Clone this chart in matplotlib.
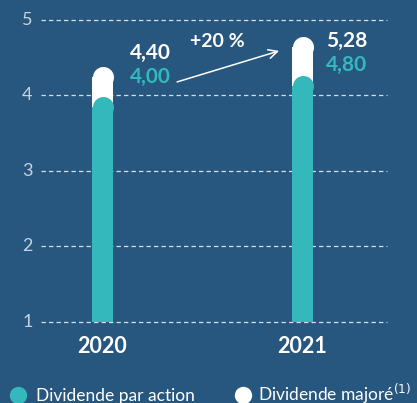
import matplotlib.pyplot as plt

years = ['2020', '2021']
dividende = [3.99, 4.27]        # hauteur dessinée des barres turquoise
majore = [4.39, 4.78]           # hauteur dessinée des barres blanches
lab_dividende = ['4,00', '4,80']
lab_majore = ['4,40', '5,28']
yticks = [1, 2, 3, 4, 5]

bg = '#27577f'
teal = '#35b8bc'
white = '#ffffff'

plt.rcParams['font.family'] = ['Lato', 'DejaVu Sans']

fig = plt.figure(figsize=(4.17, 4.03), dpi=100)
fig.patch.set_facecolor(bg)
ax = fig.add_axes([0, 0, 1, 1])
ax.set_facecolor(bg)
ax.axis('off')

# 1 unite x = 200 px, 1 unite y = 75.4 px
ax.set_xlim(-102.5 / 200, (417 - 102.5) / 200)
ax.set_ylim(1 - (403 - 321.7) / 75.4, 5 + 20 / 75.4)

for t in yticks:
    ax.plot([-0.31, 1.42], [t, t], color='#d5dfe9', lw=0.9, ls=(0, (3.5, 2.5)), zorder=1)
    ax.text(-0.35, t, str(t), color='#c6d3e0', fontsize=13,
            ha='right', va='center')

w = 0.105
r = 10.5 / 75.4
ms = 21 * 72 / 100
x = list(range(len(years)))
for i in x:
    ax.bar(i, majore[i] - r - 1, bottom=1, width=w, color=white, zorder=2)
    ax.plot(i, majore[i] - r, 'o', ms=ms, mew=0, color=white, zorder=2)
    ax.bar(i, dividende[i] - r - 1, bottom=1, width=w, color=teal, zorder=3)
    ax.plot(i, dividende[i] - r, 'o', ms=ms, mew=0, color=teal, zorder=3)
    ax.text(i, 1 - 31 / 75.4, years[i], color=white, fontsize=15.5, fontweight='bold',
            ha='center', va='baseline')

ax.text(0.135, 1 + (321.7 - 59) / 75.4, lab_majore[0], color=white, fontsize=15,
        fontweight='bold', va='baseline')
ax.text(0.135, 1 + (321.7 - 83) / 75.4, lab_dividende[0], color=teal, fontsize=15,
        fontweight='bold', va='baseline')
ax.text(1.118, 1 + (321.7 - 47) / 75.4, lab_majore[1], color=white, fontsize=15,
        fontweight='bold', va='baseline')
ax.text(1.118, 1 + (321.7 - 71) / 75.4, lab_dividende[1], color=teal, fontsize=15,
        fontweight='bold', va='baseline')

ax.text(0.5725, 1 + (321.7 - 47) / 75.4, '+20 %', color=white, fontsize=14,
        fontweight='bold', ha='center', va='baseline')
ax.annotate('', xy=(0.883, 1 + (321.7 - 51) / 75.4), xytext=(0.373, 1 + (321.7 - 82) / 75.4),
            arrowprops=dict(arrowstyle='->', color=white, lw=1.1, mutation_scale=16,
                            shrinkA=0, shrinkB=0))

# legende
ly = 1 - (395 - 321.7) / 75.4
lt = 1 - (401 - 321.7) / 75.4
ax.plot(-0.425, ly, 'o', ms=12.5, mew=0, color=teal, clip_on=False)
ax.text(-0.335, lt, 'Dividende par action', color=white,
        fontsize=12.5, ha='left', va='baseline')
ax.plot(0.7, ly, 'o', ms=12.5, mew=0, color=white, clip_on=False)
ax.text(0.775, lt, 'Dividende majoré$^{(1)}$', color=white,
        fontsize=12.5, ha='left', va='baseline')

fig.savefig('out.png', dpi=100, facecolor=bg)
